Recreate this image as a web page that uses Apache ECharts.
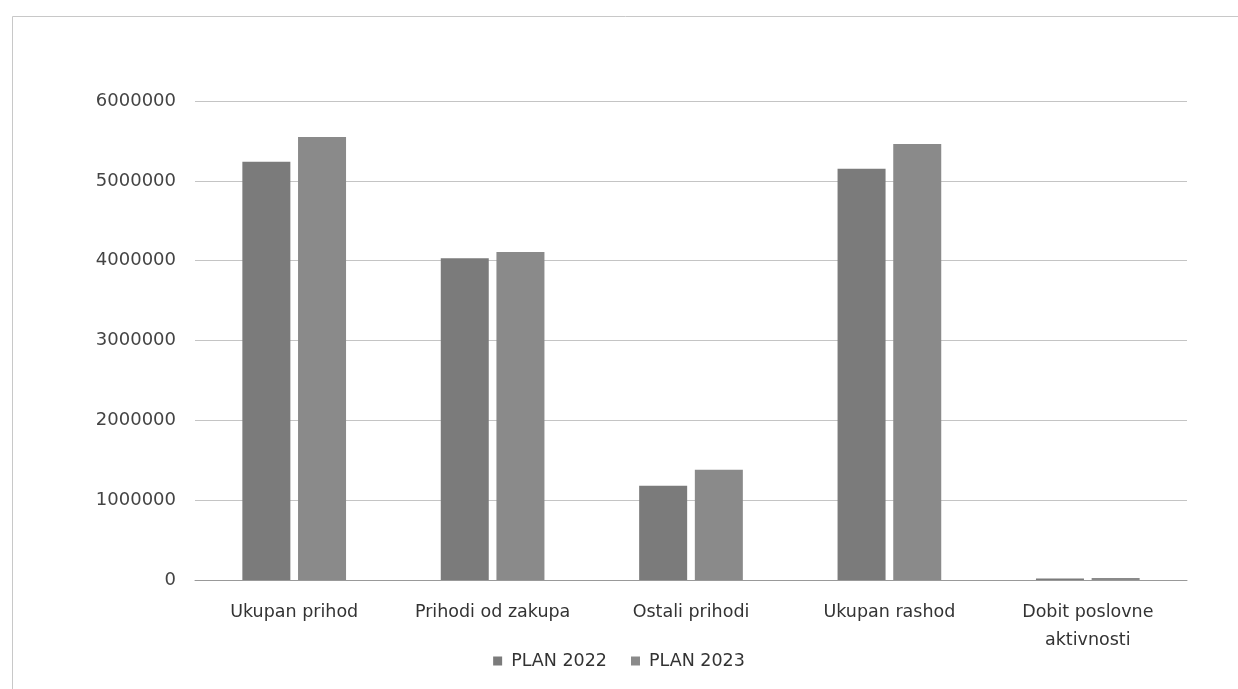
<!DOCTYPE html>
<html><head><meta charset="utf-8">
<script src="https://cdn.jsdelivr.net/npm/echarts@6/dist/echarts.min.js"></script>
<style>html,body{margin:0;padding:0;background:#fff}#c{width:1238px;height:689px}</style>
</head><body><div id="c"></div>
<script>
const categories = ['Ukupan prihod', 'Prihodi od zakupa', 'Ostali prihodi', 'Ukupan rashod', 'Dobit poslovne\naktivnosti'];
const plan2022 = [5240000, 4030000, 1180000, 5150000, 20000];
const plan2023 = [5550000, 4110000, 1380000, 5460000, 25000];
const seriesNames = ['PLAN 2022', 'PLAN 2023'];

const chart = echarts.init(document.getElementById('c'));
const font = 'DejaVu Sans, Open Sans, sans-serif';
chart.setOption({
  animation: false,
  backgroundColor: '#fff',
  graphic: [{
    type: 'rect', left: 10, top: 14,
    shape: { width: 1226, height: 673 },
    style: { fill: 'none', stroke: '#c8c8c8', lineWidth: 1 }
  }],
  grid: { left: 195, right: 51, top: 101, bottom: 109 },
  legend: {
    data: seriesNames, top: 647, left: 'center',
    itemWidth: 9, itemHeight: 9, itemGap: 24, icon: 'rect',
    textStyle: { fontFamily: font, fontSize: 17.5, color: '#333', padding: [0, 0, 0, 4] }
  },
  xAxis: {
    type: 'category', data: categories,
    axisLine: { lineStyle: { color: '#999' } },
    axisTick: { show: false },
    axisLabel: { interval: 0, hideOverlap: false, fontFamily: font, fontSize: 17.5, color: '#333', margin: 18, lineHeight: 28 }
  },
  yAxis: {
    type: 'value', min: 0, max: 6000000, interval: 1000000,
    axisLine: { show: false }, axisTick: { show: false },
    splitLine: { lineStyle: { color: '#c4c4c4' } },
    axisLabel: { fontFamily: font, fontSize: 18, color: '#444', margin: 19, formatter: v => String(v) }
  },
  series: [
    { name: seriesNames[0], type: 'bar', data: plan2022, barWidth: 48, barGap: '16%',
      itemStyle: { color: '#7b7b7b' } },
    { name: seriesNames[1], type: 'bar', data: plan2023, barWidth: 48,
      itemStyle: { color: '#8a8a8a' } }
  ]
});
</script></body></html>
